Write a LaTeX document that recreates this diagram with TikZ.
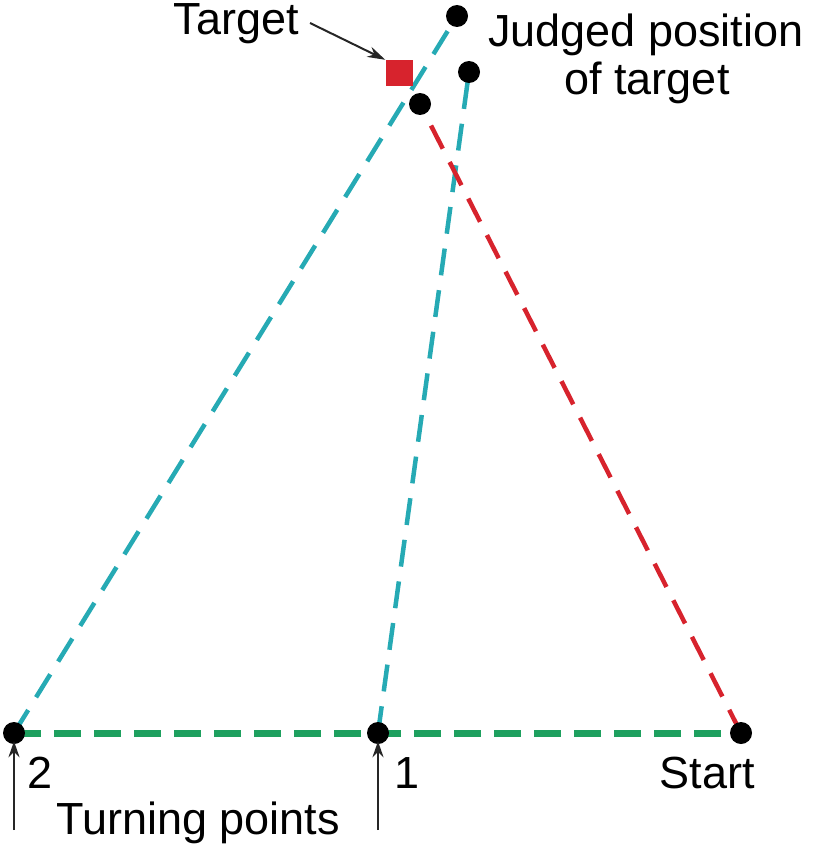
\documentclass[tikz,border=0pt]{standalone}
\usepackage{fontspec}
\setmainfont{Liberation Sans}
\usetikzlibrary{arrows.meta}
\definecolor{teal1}{RGB}{38,170,180}
\definecolor{red1}{RGB}{215,35,45}
\definecolor{green1}{RGB}{30,160,95}
\tikzset{
  dot/.style={circle,fill=black,inner sep=0pt,minimum size=22pt},
  lbl/.style={font=\fontsize{45}{48}\selectfont,inner sep=0pt,anchor=base},
  tealline/.style={teal1,line width=4.5pt,dash pattern=on 27pt off 15pt},
  redline/.style={red1,line width=4.5pt,dash pattern=on 26pt off 15pt},
  greenline/.style={green1,line width=7pt,dash pattern=on 27pt off 13pt},
  ptr/.style={black!85,line width=2pt,-{Stealth[length=18pt,width=11pt]}},
  uptr/.style={black!85,line width=2pt,-{Stealth[length=16pt,width=11pt]}}
}
\begin{document}
\begin{tikzpicture}[x=1pt,y=-1pt]
\useasboundingbox (0,0) rectangle (813,851);
% positions
\coordinate (P2) at (14,733);
\coordinate (P1) at (378,733);
\coordinate (S) at (741,733);
\coordinate (J2) at (457,16);
\coordinate (J1) at (469,72);
\coordinate (J0) at (420,104);
% lines
\draw[greenline] (P2) -- (S);
\draw[tealline] (P2) -- (J2);
\draw[tealline] (P1) -- (J1);
\draw[redline] (S) -- (J0);
% target
\node[fill=red1,minimum width=27pt,minimum height=26pt,inner sep=0pt] (tgt) at (399,73) {};
% dots
\node[dot] (d2) at (P2) {};
\node[dot] (d1) at (P1) {};
\node[dot] (ds) at (S) {};
\node[dot] (dj2) at (J2) {};
\node[dot] (dj1) at (J1) {};
\node[dot] (dj0) at (J0) {};
% labels
\node[lbl] (tl) at (236,35) {Target};
\coordinate (ta) at (310,23);
\draw[ptr] (ta) -- (tgt.north west);
\node[lbl] (jl1) at (646,47) {Judged position};
\node[lbl] (jl2) at (647,95) {of target};
\node[lbl] (sl) at (707,788) {Start};
\node[lbl] (n2) at (40,788) {2};
\node[lbl] (n1) at (407,788) {1};
\node[lbl] (tp) at (198,834) {Turning points};
\coordinate (a2) at (14,830);
\coordinate (a1) at (378,830);
\draw[uptr] (a2) -- ([yshift=3pt]d2.south);
\draw[uptr] (a1) -- ([yshift=3pt]d1.south);
\end{tikzpicture}
\end{document}
